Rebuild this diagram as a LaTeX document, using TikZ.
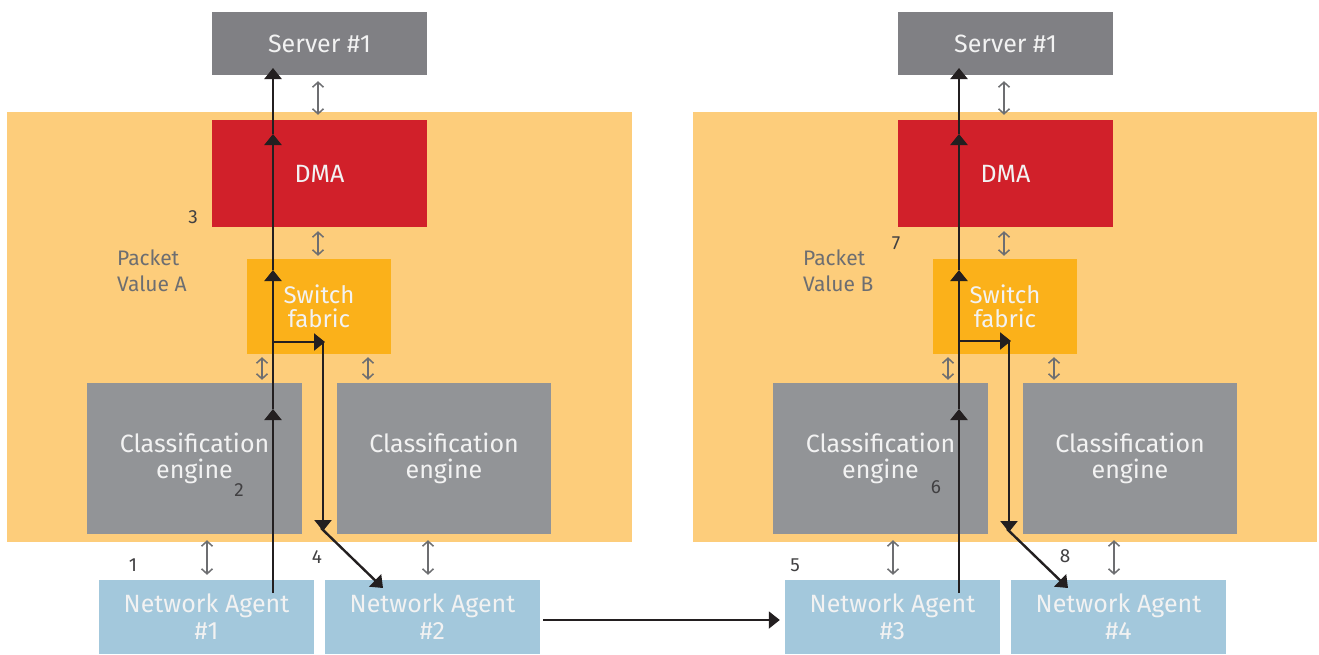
\documentclass[tikz,border=0pt]{standalone}
\usepackage{fontspec}
\setmainfont{Fira Sans}
\usetikzlibrary{arrows.meta}
\definecolor{panelc}{HTML}{FDCD7B}
\definecolor{serverc}{HTML}{808084}
\definecolor{cec}{HTML}{929497}
\definecolor{dmac}{HTML}{D1202A}
\definecolor{swc}{HTML}{FBB11A}
\definecolor{nac}{HTML}{A3C8DC}
\definecolor{lblc}{HTML}{6D6E71}
\definecolor{numc}{HTML}{414042}
\definecolor{flowc}{HTML}{231F20}
\definecolor{dblc}{HTML}{6D6E71}
\begin{document}
\begin{tikzpicture}[x=1pt,y=-1pt,
  box/.style={draw=none, inner sep=0pt, align=center, text=white!95!black,
    font=\fontsize{25}{26}\selectfont},
  panel/.style={fill=panelc, draw=none, inner sep=0pt, minimum width=625pt, minimum height=430pt},
  srv/.style={box, fill=serverc, minimum width=215pt, minimum height=63pt},
  dma/.style={box, fill=dmac, minimum width=215pt, minimum height=107pt},
  sw/.style={box, fill=swc, minimum width=144pt, minimum height=95pt, font=\fontsize{24}{24}\selectfont},
  ce/.style={box, fill=cec, minimum width=215pt, minimum height=151pt},
  na/.style={box, fill=nac, minimum width=215pt, minimum height=74pt, font=\fontsize{25}{27}\selectfont},
  lbl/.style={text=lblc, align=left, inner sep=0pt, font=\fontsize{21}{26}\selectfont},
  num/.style={text=numc, inner sep=0pt, font=\fontsize{19}{20}\selectfont},
  flow/.style={line width=2.4pt, draw=flowc, -{Triangle[width=17pt,length=11pt]}},
  dbl/.style={line width=1.5pt, draw=dblc, {Straight Barb[width=11pt,length=5pt,line width=1.5pt]}-{Straight Barb[width=11pt,length=5pt,line width=1.5pt]}},
]
\useasboundingbox (0,0) rectangle (1319,654);
\fill[white] (0,0) rectangle (1319,654);

% panels
\node[panel] (panelA) at (319.5,327) {};
\node[panel, minimum width=624pt] (panelB) at (1005,327) {};

% ---------- left system ----------
\node[srv] (srvA) at (319.5,43.5) {Server \#1};
\node[dma] (dmaA) at (319.5,173.5) {DMA};
\node[sw]  (swA)  at (319,306.5) {Switch\\fabric};
\node[ce]  (ceA1) at (194.5,458.5) {Classification\\engine};
\node[ce, minimum width=214pt] (ceA2) at (444,458.5) {Classification\\engine};
\node[na]  (naA1) at (206.5,617) {Network Agent\\\#1};
\node[na]  (naA2) at (432.5,617) {Network Agent\\\#2};

% ---------- right system ----------
\node[srv] (srvB) at (1005.5,43.5) {Server \#1};
\node[dma] (dmaB) at (1005.5,173.5) {DMA};
\node[sw]  (swB)  at (1005,306.5) {Switch\\fabric};
\node[ce]  (ceB1) at (880.5,458.5) {Classification\\engine};
\node[ce, minimum width=214pt] (ceB2) at (1130,458.5) {Classification\\engine};
\node[na]  (naB1) at (892.5,617) {Network Agent\\\#3};
\node[na]  (naB2) at (1118.5,617) {Network Agent\\\#4};

% gray double arrows, left
\draw[dbl] ([yshift=-6pt]srvA.south -| 318,0) -- ([yshift=5pt]dmaA.north -| 318,0);
\draw[dbl] ([yshift=-4pt]dmaA.south -| 318,0) -- ([yshift=3pt]swA.north -| 318,0);
\draw[dbl] ([yshift=-3pt]swA.south -| 262,0) -- ([yshift=3pt]ceA1.north -| 262,0);
\draw[dbl] ([yshift=-3pt]swA.south -| 368,0) -- ([yshift=3pt]ceA2.north -| 368,0);
\draw[dbl] ([yshift=-6pt]ceA1.south -| 207,0) -- ([yshift=5pt]naA1.north -| 207,0);
\draw[dbl] ([yshift=-6pt]ceA2.south -| 428,0) -- ([yshift=5pt]naA2.north -| 428,0);

% gray double arrows, right
\draw[dbl] ([yshift=-6pt]srvB.south -| 1004,0) -- ([yshift=5pt]dmaB.north -| 1004,0);
\draw[dbl] ([yshift=-4pt]dmaB.south -| 1004,0) -- ([yshift=3pt]swB.north -| 1004,0);
\draw[dbl] ([yshift=-3pt]swB.south -| 948,0) -- ([yshift=3pt]ceB1.north -| 948,0);
\draw[dbl] ([yshift=-3pt]swB.south -| 1054,0) -- ([yshift=3pt]ceB2.north -| 1054,0);
\draw[dbl] ([yshift=-6pt]ceB1.south -| 893,0) -- ([yshift=5pt]naB1.north -| 893,0);
\draw[dbl] ([yshift=-6pt]ceB2.south -| 1114,0) -- ([yshift=5pt]naB2.north -| 1114,0);

% packet path, left
\coordinate (a0) at (273,593);
\coordinate (a1) at (273,409);
\coordinate (a2) at (273,270);
\coordinate (a3) at (273,134);
\coordinate (a4) at (273,68);
\coordinate (ab) at (273,342);
\coordinate (ac) at (325,342);
\coordinate (ad) at (323,342);
\coordinate (ae) at (323,531);
\coordinate (af) at (383,588);
\draw[flow] (a0) -- (a1);
\draw[flow] (a1) -- (a2);
\draw[flow] (a2) -- (a3);
\draw[flow] (a3) -- (a4);
\draw[flow] (ab) -- (ac);
\draw[flow] (ad) -- (ae);
\draw[flow] ([shift={(-2pt,3pt)}]ae) -- (af);

% packet path, right
\coordinate (b0) at (959,593);
\coordinate (b1) at (959,409);
\coordinate (b2) at (959,270);
\coordinate (b3) at (959,134);
\coordinate (b4) at (959,68);
\coordinate (bb) at (959,341);
\coordinate (bc) at (1011,341);
\coordinate (bd) at (1009,341);
\coordinate (be) at (1009,532);
\coordinate (bf) at (1068,588);
\draw[flow] (b0) -- (b1);
\draw[flow] (b1) -- (b2);
\draw[flow] (b2) -- (b3);
\draw[flow] (b3) -- (b4);
\draw[flow] (bb) -- (bc);
\draw[flow] (bd) -- (be);
\draw[flow] ([shift={(-2pt,3pt)}]be) -- (bf);

% link between systems
\draw[flow, line width=2pt] ([xshift=3pt]naA2.east |- 0,620) -- ([xshift=-5pt]naB1.west |- 0,620);

% labels
\node[lbl, anchor=west] (pva) at (117,271) {Packet\\Value A};
\node[lbl, anchor=west] (pvb) at (803,271) {Packet\\Value B};
\node[num] (n1) at (133,565) {1};
\node[num] (n2) at (239,490) {2};
\node[num] (n3) at (193,217) {3};
\node[num] (n4) at (317,557) {4};
\node[num] (n5) at (795,565) {5};
\node[num] (n6) at (936,487) {6};
\node[num] (n7) at (896,243) {7};
\node[num] (n8) at (1065,556) {8};
\end{tikzpicture}
\end{document}
